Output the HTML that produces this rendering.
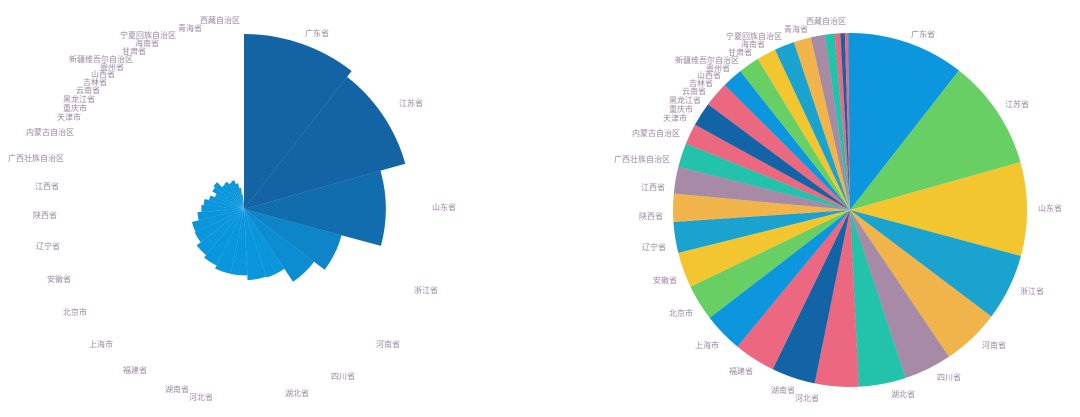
<!DOCTYPE html>
<html><head><meta charset="utf-8">
<style>
html,body{margin:0;padding:0;background:#fff;}
svg{display:block;}
text{font-family:"Liberation Sans","Noto Sans CJK SC",sans-serif;font-size:8px;fill:#9a86a0;}
</style></head>
<body>
<svg id="chart" width="1080" height="417" viewBox="0 0 1080 417">
<g id="rose"></g>
<g id="pie"></g>
</svg>
<script>
const provinces = ['广东省','江苏省','山东省','浙江省','河南省','四川省','湖北省','河北省','湖南省','福建省','上海市','北京市','安徽省','辽宁省','陕西省','江西省','广西壮族自治区','内蒙古自治区','天津市','重庆市','黑龙江省','云南省','吉林省','山西省','贵州省','新疆维吾尔自治区','甘肃省','海南省','宁夏回族自治区','青海省','西藏自治区'];
const gdpValues = [89705,85901,72678,51768,44988,36980,36523,34016,33903,32182,30633,28015,27518,23942,21899,20818,18523,16103,18549,19500,15903,16376,14945,15528,13541,10882,7460,4463,3444,2625,1311];
const palette = ['#0c96dd','#67cf63','#f3c630','#1aa3cf','#f0b44a','#a68aa6','#22c2ab','#ec6880','#1364a6','#ec6880'];
// label anchor layout (relative to chart centre): dx, dy, anchor side
const labelLayout = [[61,-176,'s'],[155,-106,'s'],[188,-2,'s'],[170,81,'s'],[132,135,'s'],[87,167,'s'],[41,184,'s'],[-31,188,'e'],[-55,180,'e'],[-97,161,'e'],[-131,135,'e'],[-157,103,'e'],[-173,70,'e'],[-184,37,'e'],[-187,6,'e'],[-185,-23,'e'],[-180,-51,'e'],[-170,-77,'e'],[-163,-92,'e'],[-157,-101,'e'],[-149,-110,'e'],[-144,-119,'e'],[-137,-127,'e'],[-129,-135,'e'],[-120,-142,'e'],[-111,-150,'e'],[-98,-158,'e'],[-85,-166,'e'],[-68,-174,'e'],[-42,-181,'e'],[-4,-189,'e']];
const NS='http://www.w3.org/2000/svg';
const total = gdpValues.reduce((a,b)=>a+b,0);
const maxV = Math.max(...gdpValues);
function angleScale(cum){return cum/total*Math.PI*2;}
function roseRadius(v){return 175*v/maxV;}
function pt(cx,cy,r,a){return [cx+r*Math.sin(a),cy-r*Math.cos(a)];}
function sectorPath(cx,cy,r,a0,a1){
  const p0=pt(cx,cy,r,a0),p1=pt(cx,cy,r,a1);
  const large=(a1-a0)>Math.PI?1:0;
  return `M${cx},${cy}L${p0[0]},${p0[1]}A${r},${r} 0 ${large} 1 ${p1[0]},${p1[1]}Z`;
}
function mix(c1,c2,t){
  const a=parseInt(c1.slice(1),16),b=parseInt(c2.slice(1),16);
  const ch=s=>Math.round(((a>>s)&255)*(1-t)+((b>>s)&255)*t);
  return `rgb(${ch(16)},${ch(8)},${ch(0)})`;
}
function draw(gid,cx,cy,isRose){
  const g=document.getElementById(gid);
  let cum=0;
  gdpValues.forEach((v,i)=>{
    const a0=angleScale(cum); cum+=v; const a1=angleScale(cum);
    const r=isRose?roseRadius(v):177;
    let col;
    if(isRose){const t=Math.min(1,Math.max(0,(v/maxV-0.4)/0.5));col=mix('#0a96dd','#1464a5',t);}
    else col=palette[i%palette.length];
    const p=document.createElementNS(NS,'path');
    p.setAttribute('d',sectorPath(cx,cy,r,a0,a1));
    p.setAttribute('fill',col);
    
    
    g.appendChild(p);
  });
  gdpValues.forEach((v,i)=>{
    const L=labelLayout[i];
    const t=document.createElementNS(NS,'text');
    t.setAttribute('x',cx+L[0]);
    t.setAttribute('y',cy+L[1]+3);
    t.setAttribute('text-anchor',L[2]==='s'?'start':'end');
    t.textContent=provinces[i];
    
    
    g.appendChild(t);
  });
}
draw('rose',244,209,true);
draw('pie',850,210,false);
</script>
</body></html>
